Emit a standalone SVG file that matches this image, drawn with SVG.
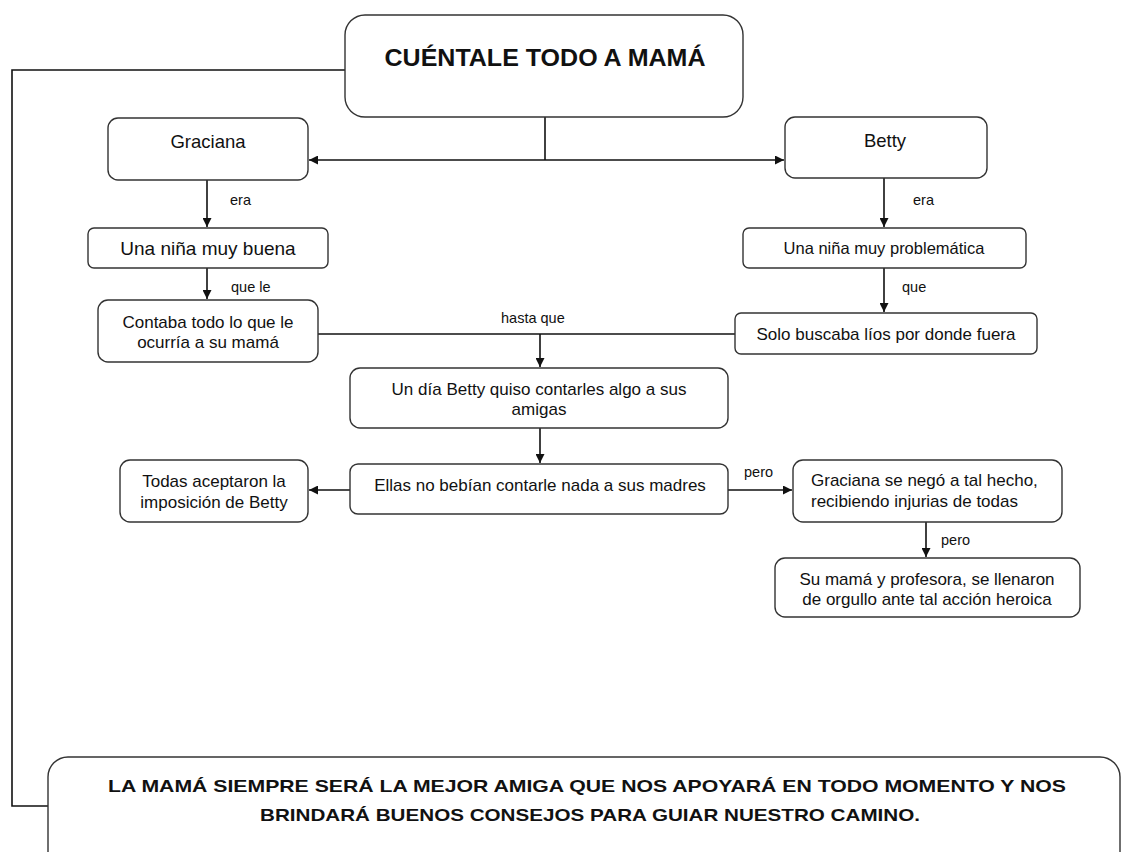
<svg xmlns="http://www.w3.org/2000/svg" width="1122" height="852" viewBox="0 0 1122 852">
<style>
.box{fill:#fff;stroke:#333;stroke-width:1.4}
.t{font-family:"Liberation Sans",Arial,sans-serif;font-size:17px;fill:#111;text-anchor:middle}
.lbl{font-family:"Liberation Sans",Arial,sans-serif;font-size:14.5px;fill:#111}
.c{fill:none;stroke:#111;stroke-width:1.6}
</style>
<defs>
<marker id="ah" viewBox="0 0 10 10" refX="10" refY="5" markerWidth="9" markerHeight="9" markerUnits="userSpaceOnUse" orient="auto"><path d="M0,0 L10,5 L0,10 z" fill="#111"/></marker>
</defs>
<rect width="1122" height="852" fill="#fff"/>
<g id="connectors">
<path class="c" d="M345,70 H12 V806 H48"/>
<path class="c" d="M545,117 V160"/>
<path class="c" d="M545,160 H309" marker-end="url(#ah)"/>
<path class="c" d="M545,160 H784" marker-end="url(#ah)"/>
<path class="c" d="M207,180 V227" marker-end="url(#ah)"/>
<text class="lbl" x="230" y="205">era</text>
<path class="c" d="M207,268 V299" marker-end="url(#ah)"/>
<text class="lbl" x="231" y="292">que le</text>
<path class="c" d="M884,178 V227" marker-end="url(#ah)"/>
<text class="lbl" x="913" y="205">era</text>
<path class="c" d="M884,268 V312" marker-end="url(#ah)"/>
<text class="lbl" x="902" y="292">que</text>
<path class="c" d="M318,334 H735"/>
<path class="c" d="M540,334 V367" marker-end="url(#ah)"/>
<text class="lbl" x="501" y="323">hasta que</text>
<path class="c" d="M540,428 V463" marker-end="url(#ah)"/>
<path class="c" d="M350,490 H309" marker-end="url(#ah)"/>
<path class="c" d="M728,490 H792" marker-end="url(#ah)"/>
<text class="lbl" x="744" y="477">pero</text>
<path class="c" d="M926,522 V557" marker-end="url(#ah)"/>
<text class="lbl" x="941" y="545">pero</text>
</g>
<g id="n-title">
<rect class="box" x="345" y="15" width="398" height="102" rx="20"/>
<text class="t" x="545" y="66" style="font-size:24px;font-weight:bold" textLength="321" lengthAdjust="spacingAndGlyphs">CUÉNTALE TODO A MAMÁ</text>
</g>
<g id="n-graciana">
<rect class="box" x="108" y="118" width="200" height="62" rx="10"/>
<text class="t" x="208" y="148" style="font-size:18.5px">Graciana</text>
</g>
<g id="n-betty">
<rect class="box" x="785" y="117" width="202" height="61" rx="10"/>
<text class="t" x="885" y="147" style="font-size:18.5px">Betty</text>
</g>
<g id="n-buena">
<rect class="box" x="88" y="228" width="240" height="40" rx="6"/>
<text class="t" x="208" y="255" style="font-size:19px">Una niña muy buena</text>
</g>
<g id="n-problematica">
<rect class="box" x="743" y="228" width="283" height="40" rx="6"/>
<text class="t" x="884" y="254" style="font-size:16.5px">Una niña muy problemática</text>
</g>
<g id="n-contaba">
<rect class="box" x="98" y="300" width="220" height="62" rx="10"/>
<text class="t" x="208" y="328">Contaba todo lo que le</text>
<text class="t" x="208" y="348">ocurría a su mamá</text>
</g>
<g id="n-solo">
<rect class="box" x="735" y="313" width="302" height="41" rx="6"/>
<text class="t" x="886" y="340">Solo buscaba líos por donde fuera</text>
</g>
<g id="n-undia">
<rect class="box" x="350" y="368" width="378" height="60" rx="10"/>
<text class="t" x="539" y="395">Un día Betty quiso contarles algo a sus</text>
<text class="t" x="539" y="415">amigas</text>
</g>
<g id="n-ellas">
<rect class="box" x="350" y="464" width="378" height="50" rx="8"/>
<text class="t" x="540" y="491">Ellas no bebían contarle nada a sus madres</text>
</g>
<g id="n-todas">
<rect class="box" x="120" y="460" width="188" height="62" rx="10"/>
<text class="t" x="214" y="487">Todas aceptaron la</text>
<text class="t" x="214" y="508">imposición de Betty</text>
</g>
<g id="n-negó">
<rect class="box" x="793" y="460" width="269" height="62" rx="10"/>
<text class="t" x="811" y="486" style="text-anchor:start">Graciana se negó a tal hecho,</text>
<text class="t" x="811" y="507" style="text-anchor:start">recibiendo injurias de todas</text>
</g>
<g id="n-orgullo">
<rect class="box" x="775" y="558" width="305" height="59" rx="10"/>
<text class="t" x="927" y="585">Su mamá y profesora, se llenaron</text>
<text class="t" x="927" y="605">de orgullo ante tal acción heroica</text>
</g>
<g id="n-conclusion">
<rect class="box" x="48" y="757" width="1072" height="130" rx="20"/>
<text class="t" x="587" y="792" style="font-size:17px;font-weight:bold" textLength="958" lengthAdjust="spacingAndGlyphs">LA MAMÁ SIEMPRE SERÁ LA MEJOR AMIGA QUE NOS APOYARÁ EN TODO MOMENTO Y NOS</text>
<text class="t" x="590" y="821" style="font-size:17px;font-weight:bold" textLength="660" lengthAdjust="spacingAndGlyphs">BRINDARÁ BUENOS CONSEJOS PARA GUIAR NUESTRO CAMINO.</text>
</g>
</svg>
